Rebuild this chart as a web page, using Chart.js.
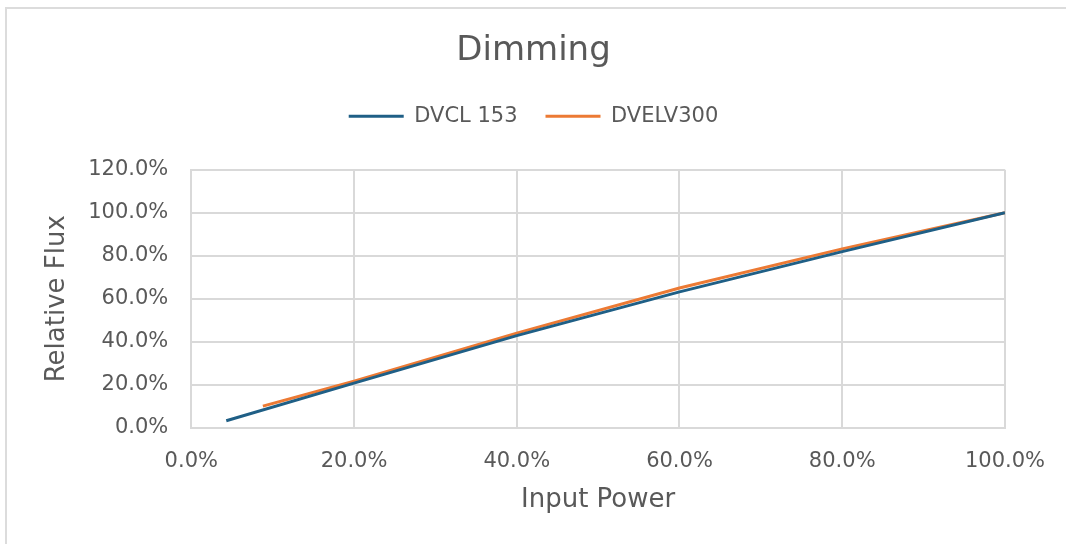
<!DOCTYPE html>
<html>
<head>
<meta charset="utf-8">
<script src="https://cdn.jsdelivr.net/npm/chart.js@4"></script>
<style>
  html, body { margin: 0; padding: 0; background: #fff; overflow: hidden; }
  #frame {
    position: absolute; left: 5px; top: 7px; width: 1080px; height: 560px;
    border: 2px solid #dcdcdc; box-sizing: border-box;
  }
  #wrap { position: absolute; left: 0; top: 0; width: 1066px; height: 544px; }
</style>
</head>
<body>
<div id="frame"></div>
<div id="wrap"><canvas id="chart"></canvas></div>
<script>
// Dimming curves: input power (%) vs relative flux (%)
const seriesNames = ['DVCL 153', 'DVELV300'];
const dvclPower = [4.3, 20, 40, 60, 80, 100];
const dvclFlux  = [3.2, 20.7, 42.8, 63.2, 81.9, 100];
const dvelvPower = [8.8, 20, 40, 60, 80, 100];
const dvelvFlux  = [10.0, 21.6, 44.0, 65.0, 83.2, 100];
const xTicks = [0, 20, 40, 60, 80, 100];
const yTicks = [0, 20, 40, 60, 80, 100, 120];

const textColor = '#595959';
const gridColor = '#d9d9d9';
const fontFamily = '"DejaVu Sans", sans-serif';

const toPoints = (xs, ys) => xs.map((x, i) => ({ x, y: ys[i] }));
const pct = v => Number(v).toFixed(1) + '%';

// extra space under the legend, like the Excel layout
const legendMargin = {
  id: 'legendMargin',
  beforeInit(chart) {
    const fit = chart.legend.fit;
    chart.legend.fit = function () {
      fit.bind(chart.legend)();
      this.height += 33;
    };
  }
};

const ctx = document.getElementById('chart').getContext('2d');
new Chart(ctx, {
  type: 'line',
  data: {
    datasets: [
      {
        label: seriesNames[0],
        data: toPoints(dvclPower, dvclFlux),
        borderColor: '#1f5f86',
        backgroundColor: '#1f5f86',
        borderWidth: 3,
        pointRadius: 0,
        tension: 0
      },
      {
        label: seriesNames[1],
        data: toPoints(dvelvPower, dvelvFlux),
        borderColor: '#ec7a34',
        backgroundColor: '#ec7a34',
        borderWidth: 3,
        pointRadius: 0,
        tension: 0
      }
    ]
  },
  plugins: [legendMargin],
  options: {
    responsive: true,
    maintainAspectRatio: false,
    animation: false,
    layout: { padding: { left: 38, right: 37, top: 22, bottom: 24 } },
    plugins: {
      title: {
        display: true,
        text: 'Dimming',
        color: textColor,
        font: { family: fontFamily, size: 34, weight: 'normal' },
        padding: { top: 9, bottom: 6 }
      },
      legend: {
        position: 'top',
        labels: {
          color: textColor,
          font: { family: fontFamily, size: 21 },
          usePointStyle: true,
          pointStyle: 'line',
          pointStyleWidth: 55,
          padding: 28
        }
      },
      tooltip: { enabled: false }
    },
    scales: {
      x: {
        type: 'linear',
        min: 0, max: 100,
        afterBuildTicks: axis => { axis.ticks = xTicks.map(v => ({ value: v })); },
        ticks: {
          color: textColor,
          font: { family: fontFamily, size: 21 },
          padding: 21,
          callback: pct
        },
        grid: { color: gridColor, lineWidth: 2, drawTicks: false },
        border: { color: gridColor, width: 2 },
        title: {
          display: true,
          text: 'Input Power',
          color: textColor,
          font: { family: fontFamily, size: 26 },
          padding: { top: -10, bottom: 4 }
        }
      },
      y: {
        min: 0, max: 120,
        afterBuildTicks: axis => { axis.ticks = yTicks.map(v => ({ value: v })); },
        ticks: {
          color: textColor,
          font: { family: fontFamily, size: 21 },
          padding: 23,
          callback: pct
        },
        grid: { color: gridColor, lineWidth: 2, drawTicks: false },
        border: { color: gridColor, width: 2 },
        title: {
          display: true,
          text: 'Relative Flux',
          color: textColor,
          font: { family: fontFamily, size: 26 },
          padding: { top: 4, bottom: -8 }
        }
      }
    }
  }
});
</script>
</body>
</html>
